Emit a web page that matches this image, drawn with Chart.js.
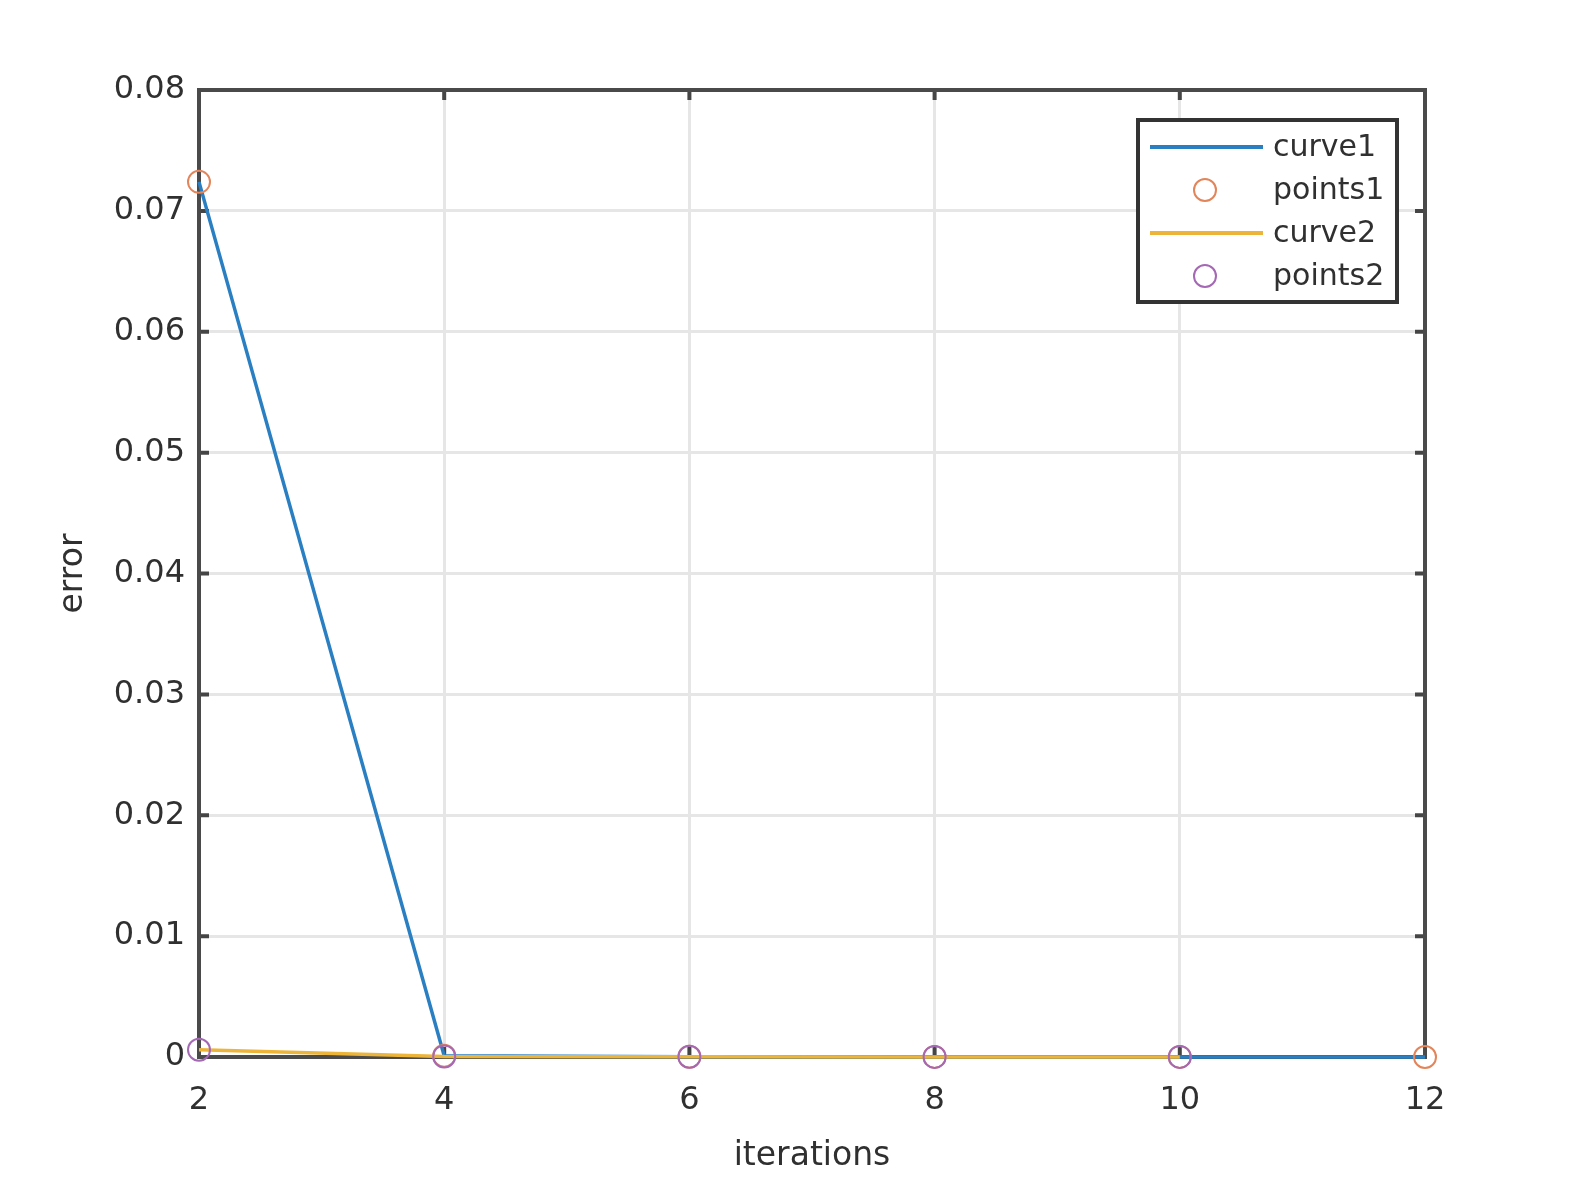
<!DOCTYPE html>
<html>
<head>
<meta charset="utf-8">
<script src="https://cdn.jsdelivr.net/npm/chart.js@4"></script>
<style>
  html, body { margin: 0; padding: 0; background: #fff; }
  #wrap { width: 1591px; height: 1182px; }
</style>
</head>
<body>
<div id="wrap"><canvas id="plot" width="1591" height="1182"></canvas></div>
<script>
// values
const iterations = [2, 4, 6, 8, 10, 12];
const curve1 = [0.0724, 0.0001, 0.00002, 0.00001, 0.00001, 0];
const points1 = [0.0724, 0.0001, 0.00002, 0.00001, 0.00001, 0];
const iterations2 = [2, 4, 6, 8, 10];
const curve2 = [0.0006, 0.00005, 0.00002, 0.00001, 0.00001];
const points2 = [0.0006, 0.00005, 0.00002, 0.00001, 0.00001];
const yTicks = [0, 0.01, 0.02, 0.03, 0.04, 0.05, 0.06, 0.07, 0.08];
const legendNames = ["curve1", "points1", "curve2", "points2"];

const BLUE = "#2a7fc2", ORANGE = "#e2855a", YELLOW = "#ecb53a", PURPLE = "#a468b4";
const FONT = "'DejaVu Sans', sans-serif";
const TEXT = "#303030";
const GRID = "#e6e6e6";

const xy = (xs, ys) => xs.map((x, i) => ({ x: x, y: ys[i] }));

// box + inward ticks, under the data like matlab does it
const boxPlugin = {
    id: "box",
    beforeDatasetsDraw(chart) {
        const { ctx, chartArea: a, scales } = chart;
        ctx.save();
        ctx.strokeStyle = "#454545";
        ctx.lineWidth = 4;
        ctx.beginPath();
        iterations.forEach(v => {
            const px = scales.x.getPixelForValue(v);
            ctx.moveTo(px, a.bottom); ctx.lineTo(px, a.bottom - 10);
            ctx.moveTo(px, a.top); ctx.lineTo(px, a.top + 10);
        });
        yTicks.forEach(v => {
            const py = scales.y.getPixelForValue(v);
            ctx.moveTo(a.left, py); ctx.lineTo(a.left + 10, py);
            ctx.moveTo(a.right, py); ctx.lineTo(a.right - 10, py);
        });
        ctx.stroke();
        ctx.strokeStyle = "#4a4a4a";
        ctx.strokeRect(a.left, a.top, a.right - a.left, a.bottom - a.top);
        ctx.restore();
    }
};

const legendPlugin = {
    id: "matlabLegend",
    afterDraw(chart) {
        const ctx = chart.ctx;
        const bx = 1138, by = 120, bw = 259, bh = 182;
        ctx.save();
        ctx.fillStyle = "#fff";
        ctx.fillRect(bx, by, bw, bh);
        ctx.lineWidth = 4;
        ctx.strokeStyle = "#333";
        ctx.strokeRect(bx, by, bw, bh);
        const rows = [147, 190, 233, 276];
        chart.data.datasets.forEach((ds, i) => {
            const y = rows[i];
            if (ds.showLine === false) {
                ctx.beginPath();
                ctx.lineWidth = 2;
                ctx.strokeStyle = ds.borderColor;
                ctx.arc(1205, y, 11, 0, Math.PI * 2);
                ctx.stroke();
            } else {
                ctx.beginPath();
                ctx.lineWidth = 4;
                ctx.strokeStyle = ds.borderColor;
                ctx.moveTo(1150, y); ctx.lineTo(1263, y);
                ctx.stroke();
            }
            ctx.fillStyle = TEXT;
            ctx.font = "30px " + FONT;
            ctx.textBaseline = "middle";
            ctx.textAlign = "left";
            ctx.fillText(legendNames[i], 1273, y + 1);
        });
        ctx.restore();
    }
};

new Chart(document.getElementById("plot"), {
    type: "line",
    data: {
        // order: later series drawn on top, as in the original
        datasets: [
            { label: legendNames[0], data: xy(iterations, curve1), borderColor: BLUE, borderWidth: 3.5, pointRadius: 0, tension: 0, clip: false, order: 4 },
            { label: legendNames[1], data: xy(iterations, points1), borderColor: ORANGE, backgroundColor: "transparent", showLine: false,
              pointRadius: 11, pointBorderWidth: 2, pointStyle: "circle", clip: false, order: 3 },
            { label: legendNames[2], data: xy(iterations2, curve2), borderColor: YELLOW, borderWidth: 3.5, pointRadius: 0, tension: 0, clip: false, order: 2 },
            { label: legendNames[3], data: xy(iterations2, points2), borderColor: PURPLE, backgroundColor: "transparent", showLine: false,
              pointRadius: 11, pointBorderWidth: 2, pointStyle: "circle", clip: false, order: 1 }
        ]
    },
    options: {
        responsive: false,
        animation: false,
        layout: { padding: { left: 0, top: 90, right: 166, bottom: 0 } },
        plugins: { legend: { display: false }, tooltip: { enabled: false } },
        scales: {
            x: {
                type: "linear",
                min: 2, max: 12,
                afterBuildTicks: s => { s.ticks = iterations.map(v => ({ value: v })); },
                afterFit: s => { s.height = 125; },
                grid: { color: GRID, lineWidth: 3, drawTicks: false },
                border: { display: false },
                ticks: { color: TEXT, font: { family: FONT, size: 32 }, padding: 24 },
                title: { display: true, text: "iterations", color: TEXT, font: { family: FONT, size: 33 }, padding: { top: 4, bottom: 6 } }
            },
            y: {
                type: "linear",
                min: 0, max: 0.08,
                afterBuildTicks: s => { s.ticks = yTicks.map(v => ({ value: v })); },
                afterFit: s => { s.width = 199; },
                grid: { color: GRID, lineWidth: 3, drawTicks: false },
                border: { display: false },
                ticks: { color: TEXT, font: { family: FONT, size: 32 }, padding: 14,
                         callback: v => String(Number(v.toFixed(2))) },
                title: { display: true, text: "error", color: TEXT, font: { family: FONT, size: 33 }, padding: { top: 54, bottom: 0 } }
            }
        }
    },
    plugins: [boxPlugin, legendPlugin]
});
</script>
</body>
</html>
